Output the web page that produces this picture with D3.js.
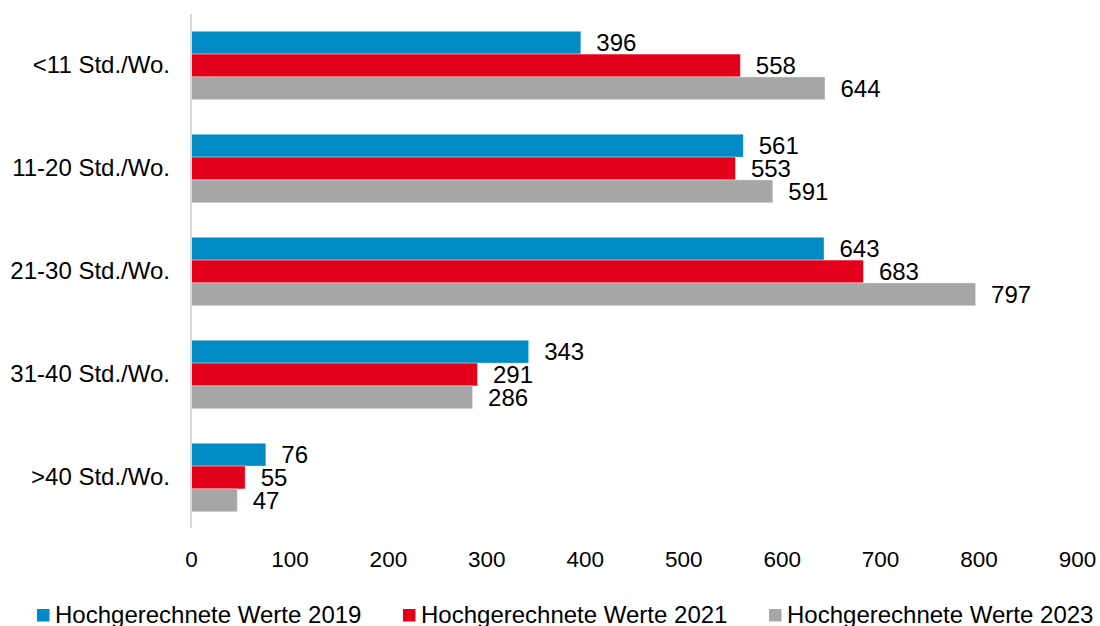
<!DOCTYPE html>
<html><head><meta charset="utf-8">
<script src="https://cdn.jsdelivr.net/npm/d3@7"></script>
<style>
html,body{margin:0;padding:0;background:#fff;}
svg{display:block;font-family:"Liberation Sans",Arial,sans-serif;}
</style></head>
<body>
<svg id="chart" width="1100" height="626"></svg>
<script>
const categories = ["<11 Std./Wo.", "11-20 Std./Wo.", "21-30 Std./Wo.", "31-40 Std./Wo.", ">40 Std./Wo."];
const seriesNames = ["Hochgerechnete Werte 2019", "Hochgerechnete Werte 2021", "Hochgerechnete Werte 2023"];
const values2019 = [396, 561, 643, 343, 76];
const values2021 = [558, 553, 683, 291, 55];
const values2023 = [644, 591, 797, 286, 47];
const xTicks = [0, 100, 200, 300, 400, 500, 600, 700, 800, 900];
const colors = ["#008BC4", "#E2001A", "#A6A6A6"];

const series = [values2019, values2021, values2023];
const svg = d3.select("#chart");

const x = d3.scaleLinear().domain([0, 900]).range([191, 1077]);
const y = d3.scaleBand().domain(categories).range([14, 529]).paddingInner(0.335).paddingOuter(0.1675);
const ySub = d3.scaleBand().domain(d3.range(series.length)).range([0, y.bandwidth()]);

const fs = 24;

// bars
categories.forEach((c, i) => {
  const g = svg.append("g").attr("transform", `translate(0,${y(c)})`);
  series.forEach((s, k) => {
    g.append("rect")
      .attr("x", x(0))
      .attr("y", ySub(k))
      .attr("width", x(s[i]) - x(0))
      .attr("height", ySub.bandwidth())
      .attr("fill", colors[k])
      .attr("stroke", "rgba(255,255,255,0.45)")
      .attr("stroke-width", 0.8);
    g.append("text")
      .attr("x", x(s[i]) + 15.5)
      .attr("y", ySub(k) + ySub.bandwidth() / 2)
      .attr("dy", "0.36em")
      .attr("font-size", fs)
      .attr("fill", "#000")
      .text(s[i]);
  });
});

// vertical axis line
svg.append("line")
  .attr("x1", x(0)).attr("x2", x(0))
  .attr("y1", 14).attr("y2", 528)
  .attr("stroke", "#D9D9D9").attr("stroke-width", 2);

// category labels
const yAxis = d3.axisLeft(y).tickSize(0).tickPadding(21);
const ya = svg.append("g").attr("transform", `translate(${x(0)},0)`).call(yAxis);
ya.select(".domain").remove();
ya.selectAll("text").attr("font-size", fs).attr("font-family", "Liberation Sans, Arial, sans-serif").attr("fill", "#000");

// x tick labels
const xAxis = d3.axisBottom(x).tickValues(xTicks).tickSize(0).tickPadding(0);
const xa = svg.append("g").attr("transform", `translate(0,550)`).call(xAxis);
xa.select(".domain").remove();
xa.selectAll("text").attr("font-size", 22.5).attr("font-family", "Liberation Sans, Arial, sans-serif").attr("fill", "#000").attr("dy", "0.74em");

// legend
const legendX = [37, 403, 769];
seriesNames.forEach((n, k) => {
  svg.append("rect").attr("x", legendX[k]).attr("y", 609).attr("width", 12.5).attr("height", 12.5).attr("fill", colors[k]);
  svg.append("text").attr("x", legendX[k] + 18).attr("y", 623).attr("font-size", fs).attr("fill", "#000").text(n);
});
</script>
</body></html>
